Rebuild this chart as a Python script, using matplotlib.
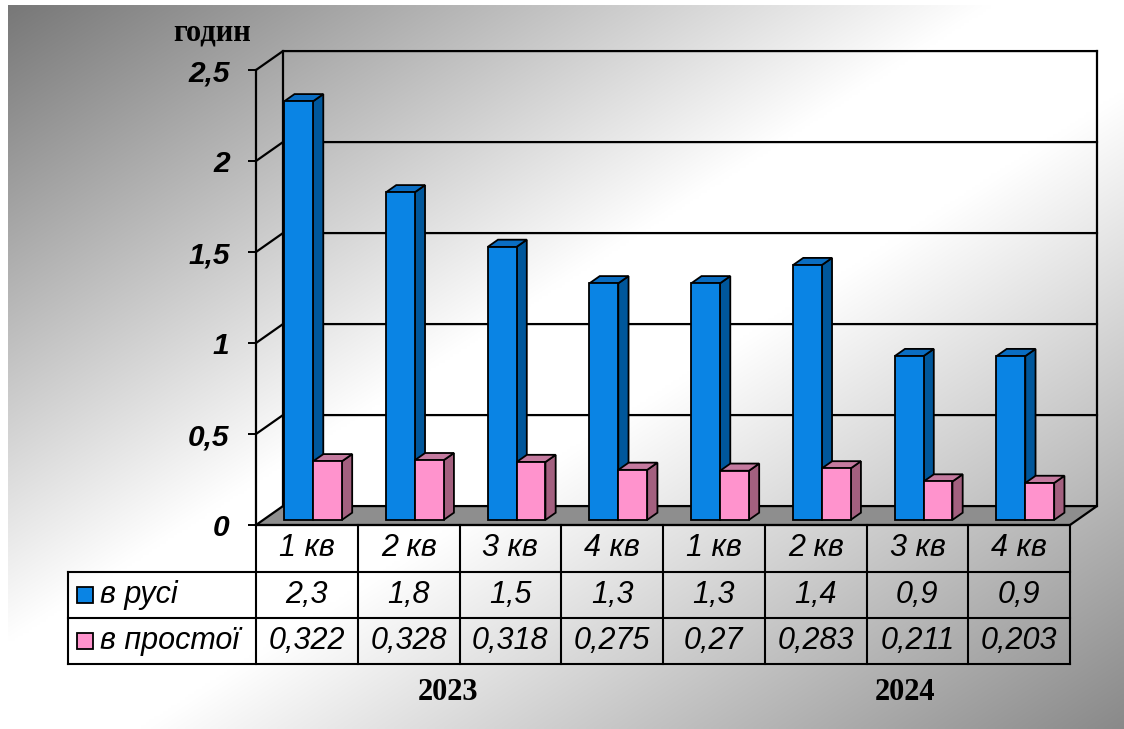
import numpy as np
import matplotlib
matplotlib.use("Agg")
import matplotlib.pyplot as plt
from matplotlib.patches import Polygon, Rectangle

quarters = ["1 кв", "2 кв", "3 кв", "4 кв", "1 кв", "2 кв", "3 кв", "4 кв"]
years = ["2023", "2024"]
year_pos = [1.89, 6.38]          # centre of each year label, in category units
series_names = ["в русі", "в простої"]
v_rusi = [2.3, 1.8, 1.5, 1.3, 1.3, 1.4, 0.9, 0.9]
v_prostoi = [0.322, 0.328, 0.318, 0.275, 0.27, 0.283, 0.211, 0.203]
y_ticks = [0, 0.5, 1, 1.5, 2, 2.5]
unit = "годин"

# colours: front / side / top faces
C_BLUE = ("#0A84E4", "#00579B", "#0A6DC2")
C_PINK = ("#FF93CD", "#A3607F", "#C47A9F")

def fmt(v):
    return f"{v:g}".replace(".", ",")

W, H = 1124, 729
fig = plt.figure(figsize=(W / 100, H / 100), dpi=100)

# gradient backdrop, grey -> white -> grey along the diagonal
bg = fig.add_axes([0, 0, 1, 1])
bg.set_xlim(0, W)
bg.set_ylim(H, 0)
bg.axis("off")
gx, gy = np.meshgrid(np.linspace(0, 1, 400), np.linspace(0, 1, 260))
t = (gx + gy) / 2
g = np.interp(t, [0, 0.44, 0.56, 1], [0.47, 1.0, 1.0, 0.54])
bg.imshow(np.dstack([g, g, g]), extent=(8, W, H, 5), aspect="auto", interpolation="bilinear")

# main plotting area = front plane of the 3D box
ax = fig.add_axes([256 / W, 204 / H, 814 / W, 455 / H])
ax.set_xlim(0, 8)
ax.set_ylim(0, 2.5)
ax.patch.set_alpha(0)
for s in ["top", "right", "bottom"]:
    ax.spines[s].set_visible(False)
ax.spines["left"].set_linewidth(1.6)
ax.set_xticks([])
ax.set_yticks(y_ticks)
ax.set_yticklabels([fmt(v) for v in y_ticks], fontsize=21.5, fontweight="bold",
                   fontstyle="italic", family="Liberation Sans")
ax.tick_params(axis="y", direction="out", length=6, width=1.4, pad=13)

DX, DY = 0.265, 0.104   # full depth of the box in data units
n = len(quarters)
lw = 1.6

# floor
ax.add_patch(Polygon([(0, 0), (n, 0), (n + DX, DY), (DX, DY)], closed=True,
                     facecolor="#8e8e8e", edgecolor="black", lw=lw, zorder=1, clip_on=False))
# side wall + back wall lines
for v in y_ticks[1:]:
    ax.plot([0, DX, n + DX], [v, v + DY, v + DY], color="black", lw=lw, zorder=1, clip_on=False)
ax.plot([DX, DX], [DY, 2.5 + DY], color="black", lw=lw, zorder=1, clip_on=False)
ax.plot([n + DX, n + DX], [DY, 2.5 + DY], color="black", lw=lw, zorder=1, clip_on=False)

# 3D bars
f0, f1 = 0.27, 0.65
bw = 0.283
ddx, ddy = (f1 - f0) * DX, (f1 - f0) * DY
x = np.arange(n)
for vals, off, cols, z in [(v_rusi, 0.206, C_BLUE, 3), (v_prostoi, 0.49, C_PINK, 6)]:
    left = x + off + f0 * DX
    base = f0 * DY
    for l, v in zip(left, vals):
        side = [(l + bw, base), (l + bw, base + v), (l + bw + ddx, base + v + ddy), (l + bw + ddx, base + ddy)]
        top = [(l, base + v), (l + bw, base + v), (l + bw + ddx, base + v + ddy), (l + ddx, base + v + ddy)]
        ax.add_patch(Polygon(side, closed=True, facecolor=cols[1], edgecolor="black", lw=1.3, zorder=z, clip_on=False))
        ax.add_patch(Polygon(top, closed=True, facecolor=cols[2], edgecolor="black", lw=1.3, zorder=z, clip_on=False))
    ax.bar(left, vals, width=bw, bottom=base, align="edge", color=cols[0],
           edgecolor="black", lw=1.3, zorder=z + 1, clip_on=False)

# data table under the chart
rows_y = [0, -0.258, -0.511, -0.764]
leg_x = -1.848
tkw = dict(color="black", lw=1.5, clip_on=False, zorder=2)
for i in range(n + 1):
    ax.plot([i, i], [rows_y[0], rows_y[3]], **tkw)
ax.plot([0, n], [rows_y[0], rows_y[0]], **tkw)
for ry in rows_y[1:]:
    ax.plot([leg_x, n], [ry, ry], **tkw)
ax.plot([leg_x, leg_x], [rows_y[1], rows_y[3]], **tkw)

txt = dict(fontsize=22, fontstyle="italic", family="Liberation Sans", ha="center", va="center")
for i, q in enumerate(quarters):
    ax.text(i + 0.5, (rows_y[0] + rows_y[1]) / 2, q, **txt)
for r, (vals, cols) in enumerate([(v_rusi, C_BLUE), (v_prostoi, C_PINK)]):
    ym = (rows_y[r + 1] + rows_y[r + 2]) / 2
    for i, v in enumerate(vals):
        ax.text(i + 0.5, ym, fmt(v), **txt)
    ax.add_patch(Rectangle((-1.76, ym - 0.044), 0.157, 0.088, facecolor=cols[0],
                           edgecolor="black", lw=1.3, clip_on=False))
    ax.text(-1.535, ym, series_names[r], fontsize=22, fontstyle="italic",
            family="Liberation Sans", ha="left", va="center")

for yr, xp in zip(years, year_pos):
    ax.text(xp, -0.92, yr, fontsize=22, fontweight="bold", family="Liberation Serif",
            ha="center", va="center")

fig.text(212 / W, 1 - 33 / H, unit, fontsize=22, fontweight="bold", family="Liberation Serif",
         ha="center", va="center")

fig.savefig("out.png", dpi=100)
